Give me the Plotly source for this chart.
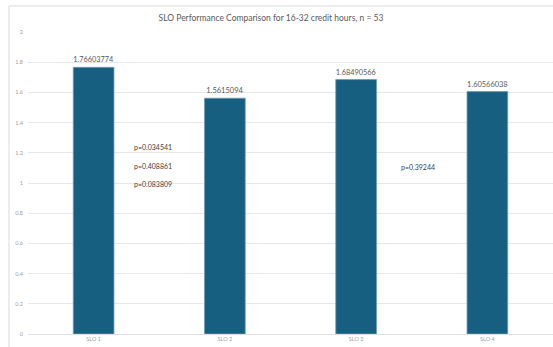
import plotly.graph_objects as go

categories = ["SLO 1", "SLO 2", "SLO 3", "SLO 4"]
means = [1.76603774, 1.5615094, 1.68490566, 1.60566038]
mean_labels = ["1.76603774", "1.5615094", "1.68490566", "1.60566038"]
y_ticks = [0, 0.2, 0.4, 0.6, 0.8, 1, 1.2, 1.4, 1.6, 1.8, 2]
y_tick_labels = ["0", "0.2", "0.4", "0.6", "0.8", "1", "1.2", "1.4", "1.6", "1.8", "2"]
p_left = ["p=0.034541", "p=0.408861", "p=0.083809"]
p_left_y = [1.238, 1.113, 0.993]
p_right = ["p=0.39244"]
p_right_y = [1.106]

W, H = 553, 347
ML, MR, MT, MB = 28, 0, 32, 13
font = "Lato"

fig = go.Figure(go.Bar(
    x=categories,
    y=means,
    text=mean_labels,
    textposition="outside",
    textfont=dict(family=font, size=7.5, color="#595959"),
    cliponaxis=False,
    marker=dict(color="#175f81", line=dict(color="#6f9bb1", width=0.8)),
))

annotations = []
for t, yv in zip(p_left, p_left_y):
    annotations.append(dict(x=0.198, xref="paper", y=yv, yref="y", text=t,
                            showarrow=False, xanchor="left", yanchor="middle",
                            font=dict(family=font, size=7, color="#404040")))
for t, yv in zip(p_right, p_right_y):
    annotations.append(dict(x=0.707, xref="paper", y=yv, yref="y", text=t,
                            showarrow=False, xanchor="left", yanchor="middle",
                            font=dict(family=font, size=7, color="#404040")))

pw = W - ML - MR
ph = H - MT - MB
def px_x(p):
    return (p - ML) / pw
def px_y(p):
    return (H - MB - p) / ph

# chart frame (left and top edges)
shapes = [
    dict(type="line", xref="paper", yref="paper", x0=px_x(9), x1=px_x(9),
         y0=px_y(6), y1=px_y(H + 5), line=dict(color="#d9d9d9", width=1)),
    dict(type="line", xref="paper", yref="paper", x0=px_x(9), x1=px_x(W + 5),
         y0=px_y(6), y1=px_y(6), line=dict(color="#d9d9d9", width=1)),
]

fig.update_layout(
    width=W, height=H,
    margin=dict(l=ML, r=MR, t=MT, b=MB),
    paper_bgcolor="white", plot_bgcolor="white",
    showlegend=False,
    bargap=0.69,
    title=dict(text="SLO Performance Comparison for 16-32 credit hours, n = 53",
               x=0.49, xref="container", xanchor="center",
               y=1 - 18 / H, yref="container", yanchor="middle",
               font=dict(family=font, size=8.5, color="#595959")),
    xaxis=dict(showgrid=False, showline=False, ticks="",
               tickfont=dict(family=font, size=5.5, color="#a0a0a0")),
    yaxis=dict(range=[0, 2], tickvals=y_ticks, ticktext=y_tick_labels,
               showgrid=True, gridcolor="#e8e8e8", gridwidth=1,
               zeroline=True, zerolinecolor="#e0e0e0", zerolinewidth=1,
               ticks="", ticklabelstandoff=4,
               tickfont=dict(family=font, size=5.5, color="#a0a0a0")),
    annotations=annotations,
    shapes=shapes,
)

fig.write_html("out.html")
